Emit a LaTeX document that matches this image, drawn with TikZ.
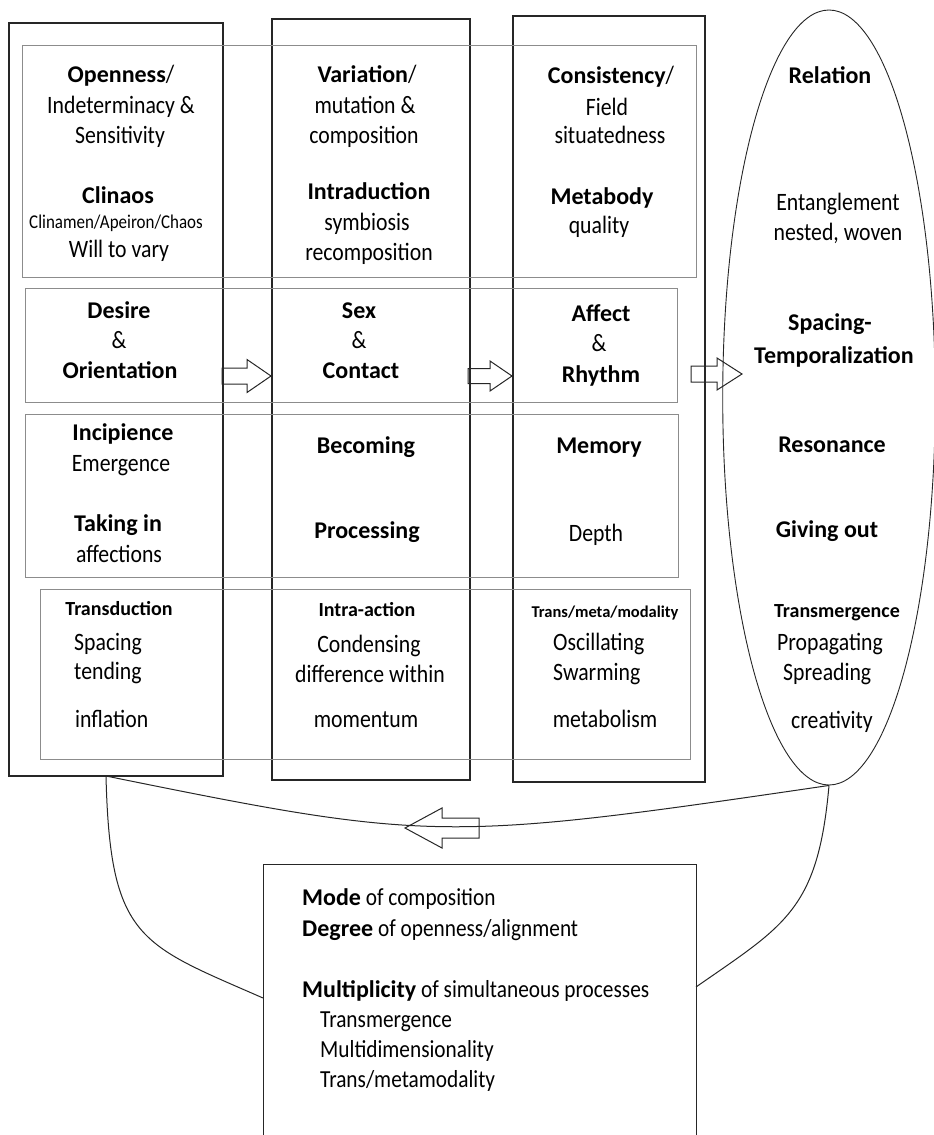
\documentclass[tikz,border=0pt]{standalone}
\usepackage{fontspec}
\setmainfont{Carlito}[FakeStretch=0.87]
\newfontfamily\headfont{Carlito}
\usetikzlibrary{calc,fit,shapes.geometric}

% bold heading words
\newcommand\hd[1]{{\headfont\bfseries\fontsize{24}{30}\selectfont #1}}

% outlined block arrow from tail coordinate #1 to tip coordinate #2;
% #3 = offset of the head base from the tip, #4 = shaft half width, #5 = head half width
\newcommand\blockarrow[5]{%
  \draw[blockline] ($(#1)+(0,-#4)$) -- ($(#2)+(#3,-#4)$) -- ($(#2)+(#3,-#5)$)
    -- (#2) -- ($(#2)+(#3,#5)$) -- ($(#2)+(#3,#4)$) -- ($(#1)+(0,#4)$) -- cycle;}

\tikzset{
  colbox/.style={draw=black!85, line width=1.2pt, inner sep=0pt},
  rowbox/.style={draw=black!45, line width=1pt, inner sep=0pt},
  txt/.style={font=\fontsize{25}{30}\selectfont, inner sep=0pt, anchor=base},
  txtl/.style={txt, anchor=base west},
  sumtxt/.style={font=\fontsize{24.5}{30}\selectfont, inner sep=0pt, anchor=base west},
  note/.style={font=\fontsize{19.5}{24}\selectfont, inner sep=0pt, anchor=base},
  subhd/.style={font=\headfont\bfseries\fontsize{20}{24}\selectfont, inner sep=0pt, anchor=base},
  tinyhd/.style={font=\headfont\bfseries\fontsize{16.5}{20}\selectfont, inner sep=0pt, anchor=base},
  blockline/.style={draw=black!85, line width=1pt, line join=miter},
  link/.style={draw=black!85, line width=1pt},
}

\begin{document}
\begin{tikzpicture}[x=1pt, y=-1pt]
\useasboundingbox (0,0) rectangle (934,1135);
\clip (0,0) rectangle (934,1135);

% three stage columns
\node[colbox, fit={(9,23) (223,776)}] (col1) {};
\node[colbox, fit={(272,19) (470,780)}] (col2) {};
\node[colbox, fit={(513,16) (705,782)}] (col3) {};

% four horizontal bands
\node[rowbox, fit={(22,45) (696,277)}] (row1) {};
\node[rowbox, fit={(25,288) (677,402)}] (row2) {};
\node[rowbox, fit={(25,414) (678,577)}] (row3) {};
\node[rowbox, fit={(40,589) (690,759)}] (row4) {};

% relation oval
\node[draw=black!85, line width=0.9pt, ellipse, inner sep=0pt,
      minimum width=212.6pt, minimum height=775pt] (oval) at (829,397.5) {};

% summary box (runs off the bottom edge)
\node[colbox, line width=1pt, fit={(263,864) (696,1170)}] (summary) {};

% arrows between the stages
\coordinate (a1t) at (222,376);  \coordinate (a1p) at (271,376);
\coordinate (a2t) at (468,376);  \coordinate (a2p) at (512,376);
\coordinate (a3t) at (691,374);  \coordinate (a3p) at (742,374);
\coordinate (a4t) at (479,828);  \coordinate (a4p) at (405,828);
\blockarrow{a1t}{a1p}{-24}{8}{16.5}
\blockarrow{a2t}{a2p}{-22}{7.5}{15}
\blockarrow{a3t}{a3p}{-25}{8}{16}
\blockarrow{a4t}{a4p}{37}{10}{20}

% feedback curves
\coordinate (c1foot) at (106,776);
\coordinate (sumL) at (263,998);
\coordinate (sumR) at (696,987);
\draw[link] (c1foot) .. controls (431,842) and (444,842) .. (oval.south);
\draw[link] (c1foot) .. controls (110,940) and (140,944) .. (sumL);
\draw[link] (oval.south) .. controls (818,910) and (785,925) .. (sumR);

% ---- band 1
\node[txt] (t1a) at (121,82) {\hd{Openness}/};
\node[txt] (t1b) at (121,113) {Indeterminacy \&};
\node[txt] (t1c) at (120,143) {Sensitivity};
\node[txt] (t1d) at (118,203) {\hd{Clinaos}};
\node[note] (t1e) at (116,228) {Clinamen/Apeiron/Chaos};
\node[txt] (t1f) at (119,257) {Will to vary};

\node[txt] (t2a) at (367,82) {\hd{Variation}/};
\node[txt] (t2b) at (365,113) {mutation \&};
\node[txt] (t2c) at (364,143) {composition};
\node[txt] (t2d) at (369,199) {\hd{Intraduction}};
\node[txt] (t2e) at (367,230) {symbiosis};
\node[txt] (t2f) at (369,260) {recomposition};

\node[txt] (t3a) at (611,83) {\hd{Consistency}/};
\node[txt] (t3b) at (607,115) {Field};
\node[txt] (t3c) at (610,143) {situatedness};
\node[txt] (t3d) at (602,204) {\hd{Metabody}};
\node[txt] (t3e) at (599,233) {quality};

\node[txt] (t4a) at (830,83) {\hd{Relation}};
\node[txt] (t4b) at (838,210) {Entanglement};
\node[txt] (t4c) at (838,240) {nested, woven};
\node[txt] (t4d) at (830,330) {\hd{Spacing-}};
\node[txt] (t4e) at (834,363) {\hd{Temporalization}};

% ---- band 2
\node[txt] (u1a) at (119,318) {\hd{Desire}};
\node[txt] (u1b) at (119,348) {\&};
\node[txt] (u1c) at (120,378) {\hd{Orientation}};
\node[txt] (u2a) at (359,318) {\hd{Sex}};
\node[txt] (u2b) at (359,348) {\&};
\node[txt] (u2c) at (361,378) {\hd{Contact}};
\node[txt] (u3a) at (601,321) {\hd{Affect}};
\node[txt] (u3b) at (599,351) {\&};
\node[txt] (u3c) at (601,382) {\hd{Rhythm}};

% ---- band 3
\node[txt] (v1a) at (123,440) {\hd{Incipience}};
\node[txt] (v1b) at (121,471) {Emergence};
\node[txt] (v1c) at (118,531) {\hd{Taking in}};
\node[txt] (v1d) at (119,562) {affections};
\node[txt] (v2a) at (366,453) {\hd{Becoming}};
\node[txt] (v2b) at (367,538) {\hd{Processing}};
\node[txt] (v3a) at (599,453) {\hd{Memory}};
\node[txt] (v3b) at (596,541) {Depth};
\node[txt] (v4a) at (832,452) {\hd{Resonance}};
\node[txt] (v4b) at (827,537) {\hd{Giving out}};

% ---- band 4
\node[subhd] (w1a) at (119,615) {Transduction};
\node[txtl] (w1b) at (74,650) {Spacing};
\node[txtl] (w1c) at (74,679) {tending};
\node[txtl] (w1d) at (75,727) {inflation};
\node[subhd] (w2a) at (367,616) {Intra-action};
\node[txt] (w2b) at (369,652) {Condensing};
\node[txt] (w2c) at (370,682) {difference within};
\node[txt] (w2d) at (366,727) {momentum};
\node[tinyhd] (w3a) at (605,617) {Trans/meta/modality};
\node[txtl] (w3b) at (553,650) {Oscillating};
\node[txtl] (w3c) at (553,680) {Swarming};
\node[txt] (w3d) at (605,727) {metabolism};
\node[subhd] (w4a) at (837,617) {Transmergence};
\node[txtl] (w4b) at (777,650) {Propagating};
\node[txtl] (w4c) at (783,680) {Spreading};
\node[txt] (w4d) at (832,728) {creativity};

% ---- summary box text
\node[sumtxt] (s1) at (302,905) {\hd{Mode} of composition};
\node[sumtxt] (s2) at (302,936) {\hd{Degree} of openness/alignment};
\node[sumtxt] (s3) at (302,997) {\hd{Multiplicity} of simultaneous processes};
\node[sumtxt] (s4) at (320,1027) {Transmergence};
\node[sumtxt] (s5) at (320,1057) {Multidimensionality};
\node[sumtxt] (s6) at (320,1087) {Trans/metamodality};
\end{tikzpicture}
\end{document}
